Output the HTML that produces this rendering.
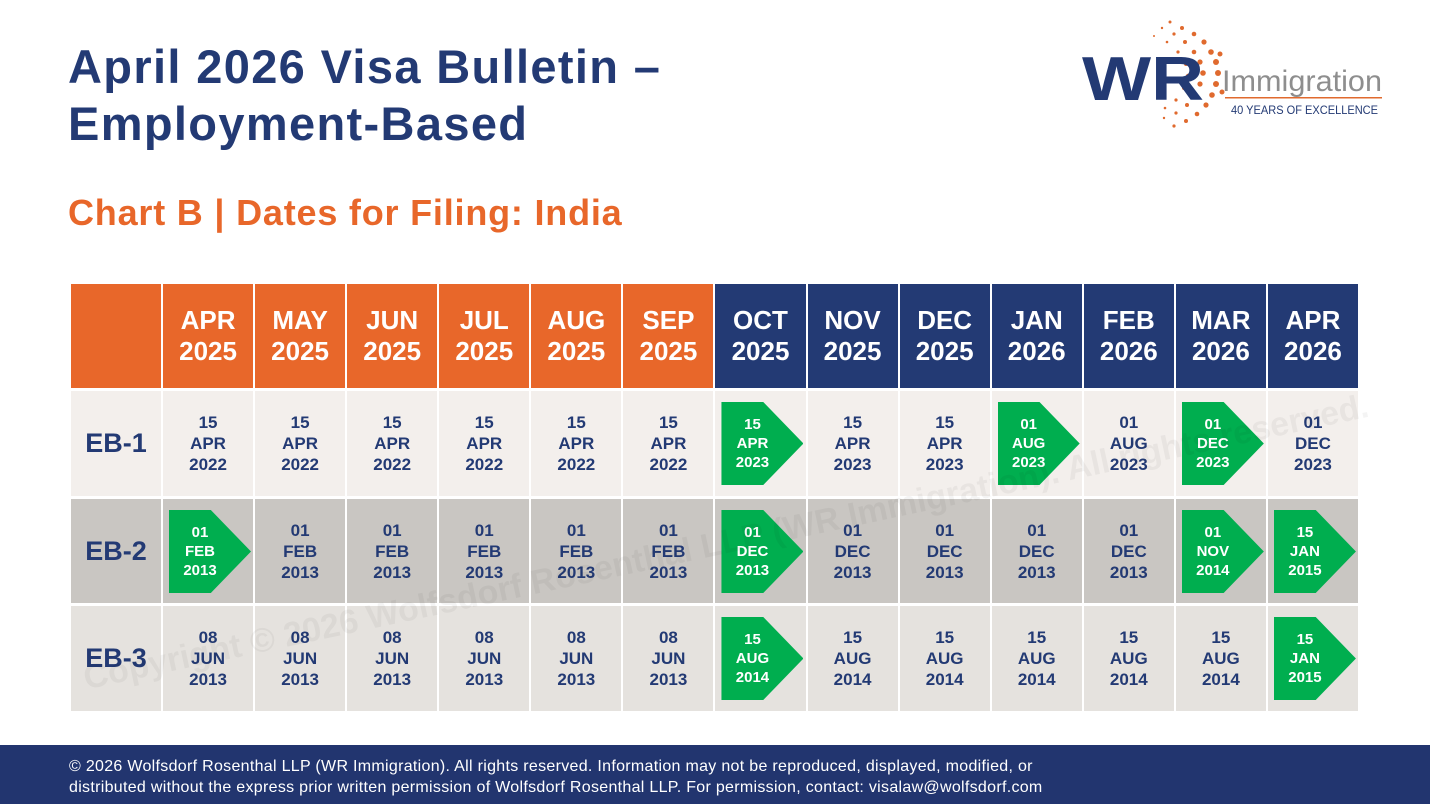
<!DOCTYPE html>
<html><head><meta charset="utf-8"><style>
*{margin:0;padding:0;box-sizing:border-box}
body{width:1430px;height:809px;background:#fff;position:relative;overflow:hidden;font-family:"Liberation Sans",sans-serif}
.t1{position:absolute;left:68px;top:38px;font-size:47px;line-height:57px;font-weight:bold;color:#233A74;letter-spacing:1.35px}
.t2{position:absolute;left:68px;top:192px;font-size:36px;font-weight:bold;color:#E8672A;letter-spacing:0.8px}
.grid{position:absolute;left:71px;top:284px;width:1287px;display:grid;grid-template-columns:90px repeat(13,1fr);grid-template-rows:104px 105px 104px 105px;column-gap:2px;row-gap:3px}
.grid>div{display:flex;align-items:center;justify-content:center;text-align:center;position:relative}
.ho{background:#E8672A;color:#fff;font-weight:bold;font-size:26px;line-height:31px}
.hn{background:#233A74;color:#fff;font-weight:bold;font-size:26px;line-height:31px}
.r1{background:#F3EFEC}.r2{background:#C9C6C2}.r3{background:#E5E2DE}
.c{color:#233A74;font-weight:bold;font-size:17px;line-height:21px}
.lab{color:#233A74;font-weight:bold;font-size:27px}
.ar{position:absolute;left:6px;top:11px;width:82px;height:83px;background:#00AE4F;clip-path:polygon(0 0,51% 0,100% 50%,51% 100%,0 100%);color:#fff;font-size:15px;line-height:19px;font-weight:bold;display:flex;align-items:center;justify-content:center;padding-right:20px}
.foot{position:absolute;left:0;top:745px;width:1430px;height:59px;background:#22356F;color:#fff;font-size:16px;line-height:21px;padding:11px 0 0 69px;letter-spacing:0.3px}
.wm{position:absolute;left:80px;top:540px;font-size:34px;font-weight:bold;color:rgba(0,0,0,0.045);transform:rotate(-12deg);transform-origin:left top;white-space:nowrap;pointer-events:none}
</style></head><body>
<div class="t1">April 2026 Visa Bulletin –<br>Employment-Based</div>
<div class="t2">Chart B | Dates for Filing: India</div>

<svg style="position:absolute;left:1070px;top:10px" width="330" height="130">
<g fill="#E06A2E">
<circle cx="100" cy="12" r="1.5"/><circle cx="112" cy="18" r="2"/><circle cx="124" cy="24" r="2.3"/><circle cx="134" cy="32" r="2.6"/><circle cx="141" cy="42" r="2.8"/><circle cx="146" cy="52" r="3"/><circle cx="148" cy="63" r="3"/><circle cx="146" cy="74" r="3"/><circle cx="142" cy="85" r="2.8"/><circle cx="136" cy="95" r="2.6"/><circle cx="127" cy="104" r="2.3"/><circle cx="116" cy="111" r="2"/><circle cx="104" cy="116" r="1.6"/>
<circle cx="92" cy="18" r="1.2"/><circle cx="104" cy="24" r="1.6"/><circle cx="115" cy="32" r="2"/><circle cx="124" cy="42" r="2.3"/><circle cx="130" cy="52" r="2.6"/><circle cx="133" cy="63" r="2.8"/><circle cx="130" cy="74" r="2.6"/><circle cx="125" cy="85" r="2.3"/><circle cx="117" cy="95" r="2"/><circle cx="106" cy="103" r="1.6"/><circle cx="94" cy="108" r="1.2"/>
<circle cx="84" cy="26" r="1"/><circle cx="97" cy="32" r="1.3"/><circle cx="108" cy="42" r="1.6"/><circle cx="116" cy="54" r="2"/><circle cx="118" cy="66" r="2.2"/><circle cx="114" cy="78" r="2"/><circle cx="106" cy="90" r="1.6"/><circle cx="95" cy="98" r="1.3"/>
<circle cx="150" cy="44" r="2.5"/><circle cx="152" cy="82" r="2.5"/>
</g>
<text x="12" y="90" font-family="Liberation Sans" font-weight="bold" font-size="62" fill="#233A74" textLength="122" lengthAdjust="spacingAndGlyphs">WR</text>
<text x="152" y="81" font-family="Liberation Sans" font-size="30" fill="#8E8E8E" textLength="160" lengthAdjust="spacingAndGlyphs">Immigration</text>
<rect x="155" y="87" width="157" height="1.5" fill="#E06A2E"/>
<text x="161" y="104" font-family="Liberation Sans" font-size="12" fill="#233A74" textLength="147" lengthAdjust="spacingAndGlyphs">40 YEARS OF EXCELLENCE</text>
</svg>

<div class="grid">
<div class="ho"></div>
<div class="ho">APR<br>2025</div><div class="ho">MAY<br>2025</div><div class="ho">JUN<br>2025</div><div class="ho">JUL<br>2025</div><div class="ho">AUG<br>2025</div><div class="ho">SEP<br>2025</div>
<div class="hn">OCT<br>2025</div><div class="hn">NOV<br>2025</div><div class="hn">DEC<br>2025</div><div class="hn">JAN<br>2026</div><div class="hn">FEB<br>2026</div><div class="hn">MAR<br>2026</div><div class="hn">APR<br>2026</div>

<div class="r1 lab">EB-1</div>
<div class="r1 c">15<br>APR<br>2022</div><div class="r1 c">15<br>APR<br>2022</div><div class="r1 c">15<br>APR<br>2022</div><div class="r1 c">15<br>APR<br>2022</div><div class="r1 c">15<br>APR<br>2022</div><div class="r1 c">15<br>APR<br>2022</div>
<div class="r1 c"><div class="ar">15<br>APR<br>2023</div></div>
<div class="r1 c">15<br>APR<br>2023</div><div class="r1 c">15<br>APR<br>2023</div>
<div class="r1 c"><div class="ar">01<br>AUG<br>2023</div></div>
<div class="r1 c">01<br>AUG<br>2023</div>
<div class="r1 c"><div class="ar">01<br>DEC<br>2023</div></div>
<div class="r1 c">01<br>DEC<br>2023</div>

<div class="r2 lab">EB-2</div>
<div class="r2 c"><div class="ar">01<br>FEB<br>2013</div></div>
<div class="r2 c">01<br>FEB<br>2013</div><div class="r2 c">01<br>FEB<br>2013</div><div class="r2 c">01<br>FEB<br>2013</div><div class="r2 c">01<br>FEB<br>2013</div><div class="r2 c">01<br>FEB<br>2013</div>
<div class="r2 c"><div class="ar">01<br>DEC<br>2013</div></div>
<div class="r2 c">01<br>DEC<br>2013</div><div class="r2 c">01<br>DEC<br>2013</div><div class="r2 c">01<br>DEC<br>2013</div><div class="r2 c">01<br>DEC<br>2013</div>
<div class="r2 c"><div class="ar">01<br>NOV<br>2014</div></div>
<div class="r2 c"><div class="ar">15<br>JAN<br>2015</div></div>

<div class="r3 lab">EB-3</div>
<div class="r3 c">08<br>JUN<br>2013</div><div class="r3 c">08<br>JUN<br>2013</div><div class="r3 c">08<br>JUN<br>2013</div><div class="r3 c">08<br>JUN<br>2013</div><div class="r3 c">08<br>JUN<br>2013</div><div class="r3 c">08<br>JUN<br>2013</div>
<div class="r3 c"><div class="ar">15<br>AUG<br>2014</div></div>
<div class="r3 c">15<br>AUG<br>2014</div><div class="r3 c">15<br>AUG<br>2014</div><div class="r3 c">15<br>AUG<br>2014</div><div class="r3 c">15<br>AUG<br>2014</div><div class="r3 c">15<br>AUG<br>2014</div>
<div class="r3 c"><div class="ar">15<br>JAN<br>2015</div></div>
</div>

<div class="wm" style="top:660px">Copyright © 2026 Wolfsdorf Rosenthal LLP (WR Immigration). All rights reserved.</div>

<div class="foot">© 2026 Wolfsdorf Rosenthal LLP (WR Immigration). All rights reserved. Information may not be reproduced, displayed, modified, or<br>distributed without the express prior written permission of Wolfsdorf Rosenthal LLP. For permission, contact: visalaw@wolfsdorf.com</div>
</body></html>
